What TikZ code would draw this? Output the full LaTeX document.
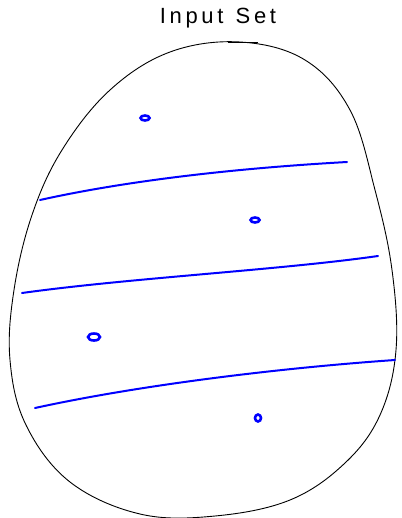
\documentclass[tikz,border=0pt]{standalone}
\usepackage{fontspec}
\setmainfont{Liberation Sans}
\tikzset{
  cut/.style={blue, line width=2pt, line cap=round},
  pt/.style={blue, line width=2.6pt, ellipse, draw, inner sep=0pt, minimum width=9pt, minimum height=5pt}
}
\usetikzlibrary{shapes.geometric}
\begin{document}
\begin{tikzpicture}[x=1pt, y=-1pt]
\useasboundingbox (0,0) rectangle (401,518);
\node (title) at (218,18) {\fontsize{22}{24}\selectfont I\,n\,p\,u\,t\; S\,e\,t};
\draw[line width=0.9pt] plot[smooth cycle, tension=0.62] coordinates {(240,42) (170,52) (110,90) (62,150) (32,215) (14,290) (10,360) (26,425) (70,482) (140,514) (215,516) (290,500) (345,463) (380,415) (396,350) (392,270) (375,190) (350,110) (305,60)};
\draw[line width=0.9pt] (228,42) -- (258,42);
\draw[cut] (40,200) .. controls (130,180) and (240,168) .. (347,162);
\draw[cut] (22,293) .. controls (130,278) and (280,270) .. (378,256);
\draw[cut] (35,408) .. controls (140,385) and (280,368) .. (395,360);
\node[pt] (p1) at (145,118) {};
\node[pt] (p2) at (255,220) {};
\node[pt, minimum width=12pt, minimum height=7pt] (p3) at (94,337) {};
\node[pt, minimum width=6pt, minimum height=7pt] (p4) at (258,418) {};
\end{tikzpicture}
\end{document}
